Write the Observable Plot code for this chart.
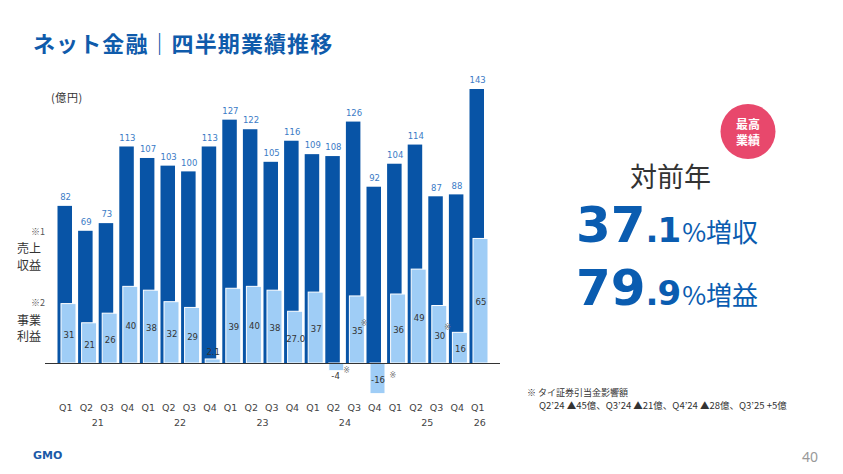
<!DOCTYPE html>
<html><head><meta charset="utf-8">
<script src="https://cdn.jsdelivr.net/npm/d3@7"></script>
<script src="https://cdn.jsdelivr.net/npm/@observablehq/plot@0.6"></script>
<style>
body{margin:0;background:#fff;}
#page{position:relative;width:843px;height:474px;overflow:hidden;background:#fff;}
#chart,#overlay{position:absolute;left:0;top:0;}
#overlay{pointer-events:none;}
</style></head><body>
<div id="page"><div id="chart"></div><svg id="overlay" width="843" height="474"></svg></div>
<script>
const years = ["21","21","21","21","22","22","22","22","23","23","23","23","24","24","24","24","25","25","25","25","26"];
const quarters = ["Q1","Q2","Q3","Q4","Q1","Q2","Q3","Q4","Q1","Q2","Q3","Q4","Q1","Q2","Q3","Q4","Q1","Q2","Q3","Q4","Q1"];
const revenue = [82,69,73,113,107,103,100,113,127,122,105,116,109,108,126,92,104,114,87,88,143];
const profit = [31,21,26,40,38,32,29,2.1,39,40,38,27.0,37,-4,35,-16,36,49,30,16,65];
const profitText = ["31","21","26","40","38","32","29","2.1","39","40","38","27.0","37","-4","35","-16","36","49","30","16","65"];
const noteKeys = ["24Q2","24Q3","24Q4","25Q3"];

const data = years.map((y, i) => ({key: y + quarters[i], year: y, q: quarters[i], revenue: revenue[i], profit: profit[i], ptext: profitText[i]}));
const keys = data.map(d => d.key);

const DARK = "#0854a6", LIGHT = "#9fcdf6";
const noteOff = {"24Q2": [12, -1], "24Q3": [9, -7], "24Q4": [17, -3], "25Q3": [10, -7]};
const noteMarks = noteKeys.map(k => Plot.text(data.filter(d => d.key === k), {
  x: "key", y: d => (Math.abs(d.profit) > 5 ? d.profit / 2 : d.profit), text: () => "※",
  dx: noteOff[k][0], dy: noteOff[k][1], fontSize: 8, fill: "#777"
}));

const chart = Plot.plot({
  width: 843, height: 474,
  marginLeft: 45, marginRight: 343, marginTop: 0, marginBottom: 74,
  style: {fontFamily: "DejaVu Sans", color: "#444", background: "transparent"},
  x: {type: "band", domain: keys, range: [56, 488.6], padding: 0, round: false},
  y: {domain: [0, 143], range: [363, 89], axis: null},
  marks: [
    Plot.barY(data, {x: "key", y: "revenue", fill: DARK, insetLeft: 1.5, insetRight: 4.6}),
    Plot.barY(data, {x: "key", y: "profit", fill: LIGHT, stroke: "white", strokeWidth: 1, insetLeft: 5, insetRight: 0.6}),
    Plot.ruleY([0], {stroke: "#333", strokeWidth: 1.2}),
    Plot.text(data, {x: "key", y: "revenue", text: d => String(d.revenue), dy: -9, dx: -1.2, fill: "#3b7bc6", fontSize: 8.5}),
    Plot.text(data.filter(d => Math.abs(d.profit) > 5), {x: "key", y: d => d.profit / 2, text: "ptext", dx: 2.2, dy: 1.5, fill: "#333", fontSize: 8.5}),
    Plot.text(data.filter(d => d.profit > 0 && d.profit <= 5), {x: "key", y: "profit", text: "ptext", dx: 2.2, dy: -7, fill: "#333", fontSize: 8.5}),
    Plot.text(data.filter(d => d.profit < 0 && d.profit >= -5), {x: "key", y: "profit", text: "ptext", dx: 1, dy: 5, fill: "#333", fontSize: 8.5}),
    ...noteMarks,
    Plot.axisX({tickSize: 0, tickPadding: 4, tickFormat: k => k.slice(2), fontSize: 9.5, dx: -1, label: null}),
    Plot.text(data.filter(d => d.q === "Q2"), {x: "key", text: "year", frameAnchor: "bottom", dx: 10.3, dy: 25.5, fontSize: 9.5, fill: "#444"}),
    Plot.text(data.filter(d => d.year === "26"), {x: "key", text: "year", frameAnchor: "bottom", dx: 1, dy: 25.5, fontSize: 9.5, fill: "#444"})
  ]
});
document.getElementById("chart").appendChild(chart);

const svg = d3.select("#overlay");
const JP = "'Noto Sans CJK JP', sans-serif";
function t(x, y, str, size, fill, opts = {}) {
  const el = svg.append("text").attr("x", x).attr("y", y).attr("font-size", size).attr("fill", fill)
    .attr("font-family", opts.family || JP).attr("font-weight", opts.weight || "normal")
    .attr("text-anchor", opts.anchor || "start").text(str);
  if (opts.ls) el.attr("letter-spacing", opts.ls);
  return el;
}
t(33, 52, "ネット金融｜四半期業績推移", 22, "#0f5bab", {weight: "bold", ls: 1.1});
t(51, 102, "(億円)", 11, "#333", {ls: 0.6});
t(31, 235, "※1", 9, "#555");
t(17, 253, "売上", 12, "#333");
t(17, 269.5, "収益", 12, "#333");
t(31, 306, "※2", 9, "#555");
t(17, 324.5, "事業", 12, "#333");
t(17, 340.5, "利益", 12, "#333");
t(527, 396, "※ タイ証券引当金影響額", 9, "#333");
t(539, 409, "Q2’24 ▲45億、Q3’24 ▲21億、Q4’24 ▲28億、Q3’25 +5億", 9.5, "#333");
t(802, 462, "40", 14, "#999", {family: "'Noto Sans', sans-serif"});
t(33, 459, "GMO", 11, "#1a5aa8", {family: "'DejaVu Sans', sans-serif", weight: "bold"});

svg.append("circle").attr("cx", 748).attr("cy", 131.5).attr("r", 27.5).attr("fill", "#e8486c");
t(748, 128.5, "最高", 12, "#fff", {weight: "bold", anchor: "middle"});
t(748, 144.5, "業績", 12, "#fff", {weight: "bold", anchor: "middle"});
t(630, 187, "対前年", 27, "#333");

function bigLine(y, intPart, dec, suffix) {
  const el = svg.append("text").attr("x", 576).attr("y", y).attr("fill", "#0a5cb0");
  el.append("tspan").attr("font-family", "'DejaVu Sans', sans-serif").attr("font-weight", "bold").attr("font-size", 50).text(intPart);
  el.append("tspan").attr("font-family", "'DejaVu Sans', sans-serif").attr("font-weight", "bold").attr("font-size", 34).attr("letter-spacing", -1).text(dec);
  el.append("tspan").attr("font-family", JP).attr("font-size", 26).attr("dx", 2).text(suffix);
}
bigLine(241.7, "37", ".1", "%増収");
bigLine(305, "79", ".9", "%増益");
</script>
</body></html>
